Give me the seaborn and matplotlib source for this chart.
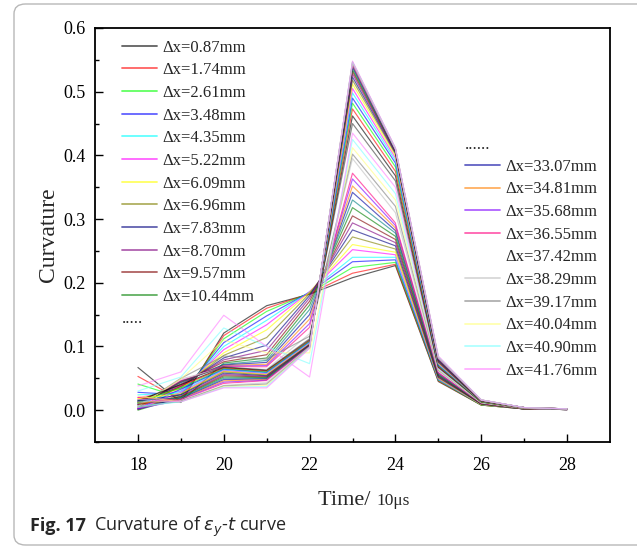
import matplotlib
matplotlib.use("Agg")
import matplotlib.pyplot as plt
import seaborn as sns
import pandas as pd
from matplotlib.lines import Line2D
from matplotlib.patches import FancyBboxPatch

# ---------------- data ----------------
times = [18, 19, 20, 21, 22, 23, 24, 25, 26, 27, 28]

labels = ["0.87", "1.74", "2.61", "3.48", "4.35", "5.22", "6.09", "6.96", "7.83", "8.70",
          "9.57", "10.44", "11.31", "12.18", "13.05", "13.92", "14.79", "15.66", "16.53",
          "17.40", "18.27", "19.14", "20.01", "20.88", "21.75", "22.62", "23.49", "24.36",
          "25.23", "26.10", "26.97", "27.84", "28.71", "29.58", "30.45", "31.32", "32.19",
          "33.07", "34.81", "35.68", "36.55", "37.42", "38.29", "39.17", "40.04", "40.90",
          "41.76"]

c18 = [0.067, 0.053, 0.041, 0.028, 0.024, 0.020, 0.018, 0.016, 0.014, 0.013, 0.012, 0.011,
       0.010, 0.009, 0.008, 0.008, 0.007, 0.007, 0.006, 0.006, 0.005, 0.030, 0.038,
       0.004, 0.015, 0.003, 0.012, 0.002, 0.010, 0.002, 0.018, 0.001, 0.014, 0.001, 0.009,
       0.000, 0.016, 0.003, 0.011, 0.002, 0.020, 0.004, 0.013, 0.005, 0.022, 0.006, 0.017]
c19 = [0.012, 0.016, 0.020, 0.024, 0.027, 0.030, 0.033, 0.035, 0.037, 0.039, 0.041, 0.013,
       0.043, 0.044, 0.045, 0.046, 0.047, 0.048, 0.049, 0.050, 0.049, 0.052, 0.060,
       0.045, 0.040, 0.038, 0.035, 0.033, 0.030, 0.028, 0.026, 0.025, 0.024, 0.022, 0.021,
       0.020, 0.019, 0.018, 0.017, 0.016, 0.015, 0.015, 0.014, 0.014, 0.013, 0.013, 0.013]
c20 = [0.121, 0.117, 0.112, 0.106, 0.100, 0.095, 0.090, 0.086, 0.082, 0.079, 0.076, 0.074,
       0.072, 0.071, 0.070, 0.069, 0.068, 0.067, 0.066, 0.085, 0.110, 0.129, 0.149,
       0.068, 0.067, 0.066, 0.065, 0.064, 0.063, 0.062, 0.061, 0.060, 0.058, 0.056, 0.054,
       0.052, 0.050, 0.048, 0.046, 0.044, 0.042, 0.040, 0.039, 0.038, 0.037, 0.036, 0.035]
c21 = [0.164, 0.160, 0.155, 0.148, 0.141, 0.134, 0.126, 0.114, 0.102, 0.094, 0.087, 0.082,
       0.078, 0.075, 0.072, 0.070, 0.068, 0.066, 0.064, 0.080, 0.090, 0.100, 0.100,
       0.063, 0.062, 0.061, 0.060, 0.059, 0.058, 0.057, 0.056, 0.055, 0.054, 0.053, 0.052,
       0.051, 0.050, 0.049, 0.048, 0.047, 0.046, 0.045, 0.043, 0.041, 0.039, 0.037, 0.035]
c22 = [0.182, 0.183, 0.184, 0.185, 0.186, 0.186, 0.185, 0.183, 0.180, 0.176, 0.171, 0.165,
       0.158, 0.150, 0.143, 0.136, 0.130, 0.125, 0.120, 0.116, 0.090, 0.073, 0.052,
       0.112, 0.110, 0.109, 0.108, 0.107, 0.106, 0.105, 0.104, 0.103, 0.103, 0.102, 0.102,
       0.101, 0.101, 0.100, 0.100, 0.100, 0.099, 0.099, 0.099, 0.098, 0.098, 0.098, 0.097]
c23 = [0.208, 0.215, 0.224, 0.233, 0.240, 0.252, 0.260, 0.272, 0.283, 0.294, 0.305, 0.318,
       0.330, 0.342, 0.352, 0.363, 0.372, 0.385, 0.395, 0.402, 0.412, 0.425, 0.435,
       0.450, 0.462, 0.473, 0.482, 0.490, 0.498, 0.505, 0.512, 0.518, 0.523, 0.528, 0.532,
       0.535, 0.538, 0.540, 0.542, 0.543, 0.544, 0.545, 0.546, 0.546, 0.547, 0.547, 0.548]
c24 = [0.227, 0.229, 0.232, 0.236, 0.240, 0.244, 0.248, 0.253, 0.258, 0.263, 0.268, 0.273,
       0.278, 0.282, 0.286, 0.290, 0.294, 0.300, 0.310, 0.320, 0.330, 0.340, 0.350,
       0.360, 0.368, 0.375, 0.382, 0.388, 0.392, 0.396, 0.399, 0.402, 0.404, 0.405, 0.406,
       0.407, 0.408, 0.408, 0.409, 0.409, 0.410, 0.410, 0.410, 0.411, 0.411, 0.411, 0.412]
c25 = [0.045, 0.046, 0.047, 0.048, 0.048, 0.049, 0.050, 0.051, 0.052, 0.053, 0.054, 0.055,
       0.056, 0.057, 0.058, 0.059, 0.060, 0.061, 0.062, 0.063, 0.064, 0.065, 0.066,
       0.067, 0.068, 0.069, 0.070, 0.071, 0.072, 0.073, 0.074, 0.075, 0.076, 0.077, 0.078,
       0.079, 0.080, 0.080, 0.081, 0.081, 0.082, 0.082, 0.083, 0.083, 0.084, 0.084, 0.085]
c26 = [0.008, 0.008, 0.008, 0.009, 0.009, 0.009, 0.009, 0.010, 0.010, 0.010, 0.010, 0.010,
       0.011, 0.011, 0.011, 0.011, 0.011, 0.012, 0.012, 0.012, 0.012, 0.012, 0.013,
       0.013, 0.013, 0.013, 0.013, 0.014, 0.014, 0.014, 0.014, 0.014, 0.014, 0.015, 0.015,
       0.015, 0.015, 0.015, 0.015, 0.016, 0.016, 0.016, 0.016, 0.016, 0.016, 0.016, 0.016]
c27 = [0.002, 0.002, 0.002, 0.002, 0.002, 0.002, 0.002, 0.002, 0.002, 0.002, 0.002, 0.002,
       0.002, 0.002, 0.002, 0.003, 0.003, 0.003, 0.003, 0.003, 0.003, 0.003, 0.003,
       0.003, 0.003, 0.003, 0.003, 0.003, 0.003, 0.003, 0.003, 0.004, 0.004, 0.004, 0.004,
       0.004, 0.004, 0.004, 0.004, 0.004, 0.004, 0.004, 0.004, 0.004, 0.004, 0.004, 0.004]
c28 = [0.001, 0.001, 0.001, 0.001, 0.001, 0.001, 0.001, 0.001, 0.001, 0.001, 0.001, 0.001,
       0.001, 0.001, 0.001, 0.001, 0.001, 0.001, 0.001, 0.001, 0.002, 0.002, 0.002,
       0.002, 0.002, 0.002, 0.002, 0.002, 0.002, 0.002, 0.002, 0.002, 0.002, 0.002, 0.002,
       0.002, 0.002, 0.002, 0.002, 0.002, 0.002, 0.002, 0.002, 0.002, 0.002, 0.002, 0.002]

columns = [c18, c19, c20, c21, c22, c23, c24, c25, c26, c27, c28]

left_legend_idx = list(range(0, 12))
right_legend_idx = list(range(37, 47))

# ---------------- styling ----------------
origin_cycle = ["#000000", "#FF0000", "#00FF00", "#0000FF", "#00FFFF", "#FF00FF",
                "#FFFF00", "#808000", "#000080", "#800080", "#800000", "#008000",
                "#008080", "#0000A0", "#FF8000", "#8000FF", "#FF0080", "#FFFFFF",
                "#C0C0C0", "#808080", "#FFFF80", "#80FFFF", "#FF80FF", "#404040"]
line_colors = (origin_cycle * 2)[:len(labels)]

sns.set_theme(style="white")
plt.rcParams["font.family"] = ["Liberation Serif", "DejaVu Serif"]
plt.rcParams["mathtext.fontset"] = "dejavusans"

rows = []
for k, lab in enumerate(labels):
    for t, col in zip(times, columns):
        rows.append({"time": t, "curvature": col[k], "series": lab})
df = pd.DataFrame(rows)

W, H = 637, 548
fig = plt.figure(figsize=(W / 100, H / 100), dpi=100)
fig.patch.set_facecolor("white")

# rounded caption box
box = FancyBboxPatch((14 / W, 1 - 545 / H), (650 - 14) / W, (545 - 4) / H,
                     boxstyle="round,pad=0,rounding_size=0.018",
                     transform=fig.transFigure, fill=False,
                     edgecolor="#b8b8b8", linewidth=1.0)
fig.patches.append(box)

ax = fig.add_axes([95 / W, 1 - 442 / H, 515 / W, 414 / H])
ax.set_facecolor("white")

alpha = 0.62
sns.lineplot(data=df, x="time", y="curvature", hue="series", hue_order=labels,
             palette=dict(zip(labels, line_colors)), legend=False,
             linewidth=0.85, alpha=alpha, estimator=None, ax=ax)

ax.set_xlim(17, 29)
ax.set_ylim(-0.05, 0.6)
ax.set_xticks([18, 20, 22, 24, 26, 28])
ax.set_xticks([19, 21, 23, 25, 27], minor=True)
ax.set_yticks([0.0, 0.1, 0.2, 0.3, 0.4, 0.5, 0.6])
ax.set_yticks([-0.05, 0.05, 0.15, 0.25, 0.35, 0.45, 0.55], minor=True)
ax.set_yticklabels(["0.0", "0.1", "0.2", "0.3", "0.4", "0.5", "0.6"])
ax.tick_params(axis="both", which="both", bottom=True, left=True, top=False, right=False)
ax.tick_params(axis="both", which="major", direction="in", length=6, width=1.0,
               labelsize=13, colors="black", pad=7)
ax.tick_params(axis="both", which="minor", direction="in", length=3, width=1.0,
               colors="black")
ax.tick_params(axis="x", which="major", pad=11)
for sp in ax.spines.values():
    sp.set_color("black")
    sp.set_linewidth(1.3)

ax.set_xlabel("")
ax.set_ylabel("Curvature", fontsize=17, labelpad=3)

# legends
def handles_for(idx):
    return [Line2D([], [], color=line_colors[i], lw=1.3, alpha=alpha) for i in idx]

leg1 = ax.legend(handles_for(left_legend_idx),
                 ["\u0394x=" + labels[i] + "mm" for i in left_legend_idx],
                 loc="upper left", bbox_to_anchor=(0.052, 0.972), frameon=False,
                 fontsize=12, handlelength=2.1, handletextpad=0.35,
                 labelspacing=0.40, borderpad=0, borderaxespad=0)
ax.add_artist(leg1)
leg2 = ax.legend(handles_for(right_legend_idx),
                 ["\u0394x=" + labels[i] + "mm" for i in right_legend_idx],
                 loc="upper left", bbox_to_anchor=(0.718, 0.684), frameon=False,
                 fontsize=12, handlelength=2.1, handletextpad=0.35,
                 labelspacing=0.40, borderpad=0, borderaxespad=0)

ax.text(0.052, 0.297, ".....", transform=ax.transAxes, fontsize=12,
        ha="left", va="center")
ax.text(0.718, 0.718, "......", transform=ax.transAxes, fontsize=12,
        ha="left", va="center")

# x label in two sizes
fig.canvas.draw()
r = fig.canvas.get_renderer()
t1 = fig.text(0, 1 - 505 / H, "Time/ ", fontsize=16, ha="left", va="baseline")
t2 = fig.text(0, 1 - 505 / H, "10\u03bcs", fontsize=12.5, ha="left", va="baseline")
w1 = t1.get_window_extent(r).width
w2 = t2.get_window_extent(r).width
cx = 364
t1.set_x((cx - (w1 + w2) / 2) / W)
t2.set_x((cx - (w1 + w2) / 2 + w1) / W)

# caption
cap1 = fig.text(30 / W, 1 - 531 / H, "Fig. 17", fontsize=13, fontweight="bold",
                family=["Open Sans", "DejaVu Sans"], ha="left", va="baseline")
wc = cap1.get_window_extent(r).width
fig.text((30 + wc + 8) / W, 1 - 531 / H, r"Curvature of $\varepsilon_y$-$t$ curve",
         fontsize=13, family=["Open Sans", "DejaVu Sans"], ha="left", va="baseline")

fig.savefig("out.png", dpi=100, facecolor="white")
